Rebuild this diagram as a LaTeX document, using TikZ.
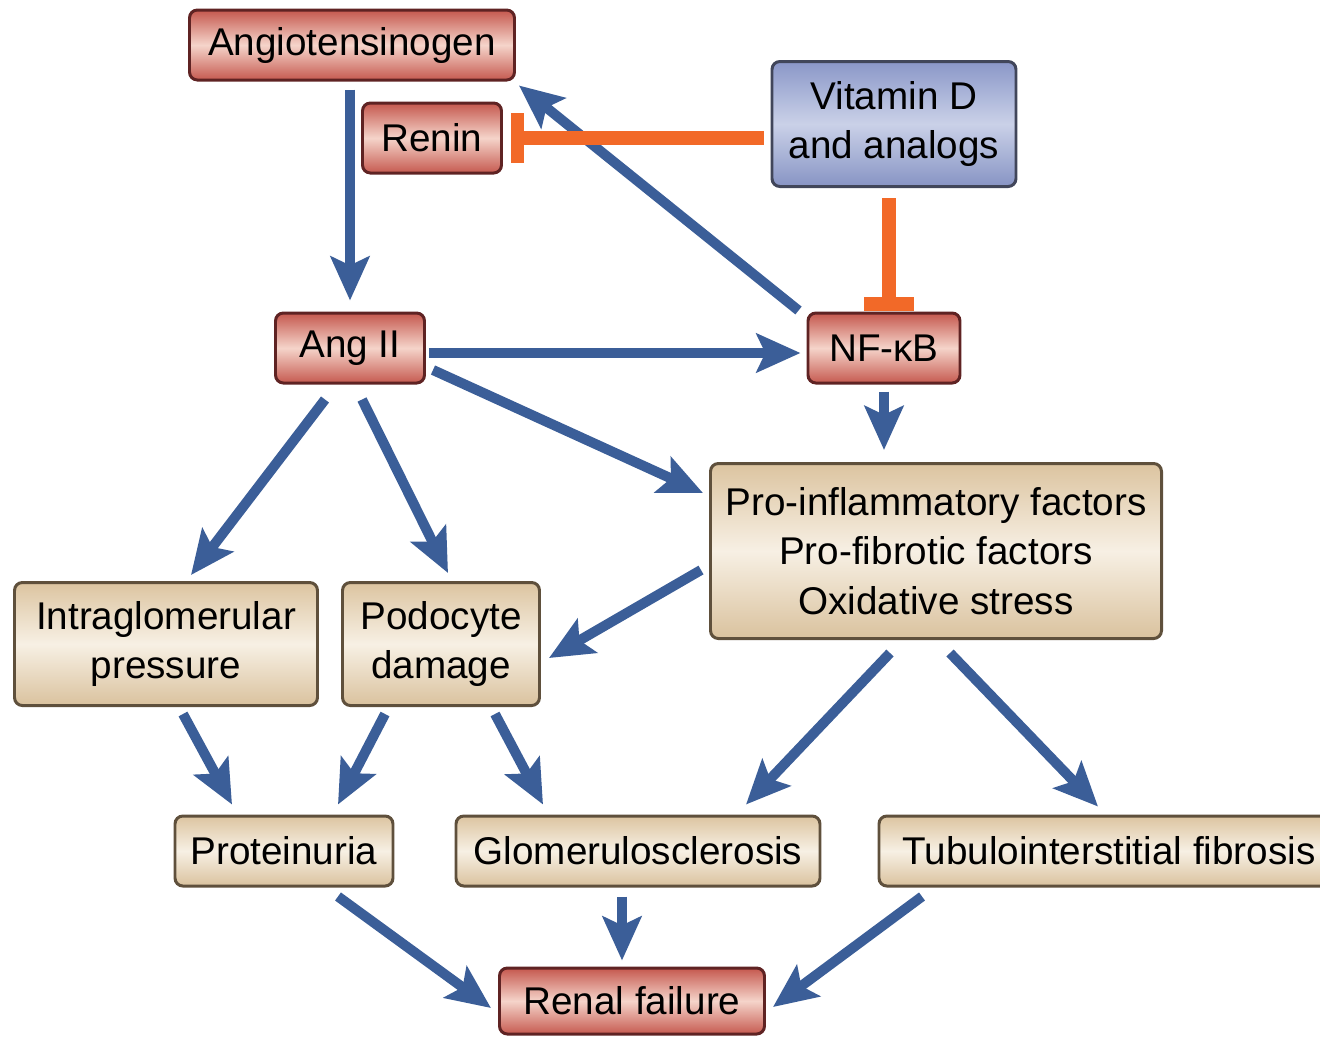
\documentclass[tikz,border=0pt]{standalone}
\usepackage{fontspec}
\setmainfont{Liberation Sans}
\usetikzlibrary{arrows.meta,calc}
\newcommand\mypx{0.02cm}
\definecolor{arrblue}{RGB}{59,94,152}
\definecolor{inhorange}{RGB}{242,105,40}
\definecolor{redtop}{RGB}{197,88,78}
\definecolor{redmid}{RGB}{245,212,202}
\definecolor{redbot}{RGB}{198,90,80}
\definecolor{redline}{RGB}{95,35,35}
\definecolor{tantop}{RGB}{220,196,160}
\definecolor{tanmid}{RGB}{247,240,228}
\definecolor{tanbot}{RGB}{218,194,158}
\definecolor{tanline}{RGB}{95,80,60}
\definecolor{bluetop}{RGB}{138,151,200}
\definecolor{bluemid}{RGB}{202,209,232}
\definecolor{bluebot}{RGB}{135,148,196}
\definecolor{blueline}{RGB}{65,70,90}
\begin{document}
\begin{tikzpicture}[x=0.02cm,y=-0.02cm,
  basebox/.style={line width=1.7pt, rounded corners=4.5pt, inner sep=0pt, align=center,
    font=\fontsize{22}{28}\selectfont},
  redbox/.style={basebox, draw=redline, top color=redtop, bottom color=redbot, middle color=redmid},
  tanbox/.style={basebox, draw=tanline, top color=tantop, bottom color=tanbot, middle color=tanmid},
  bluebox/.style={basebox, draw=blueline, top color=bluetop, bottom color=bluebot, middle color=bluemid},
  barr/.style={draw=arrblue, line width=5.7pt, -{Stealth[length=25pt,width=22pt,inset=5pt]}},
  inh/.style={draw=inhorange, line width=7.5pt, -{Bar[width=28pt]}}]
\useasboundingbox (0,0) rectangle (1320,1036);

\node[redbox, minimum width=325*\mypx, minimum height=70*\mypx] (ang) at (352,45) {Angiotensinogen};
\node[redbox, minimum width=139*\mypx, minimum height=70*\mypx] (renin) at (432,138) {Renin};
\node[bluebox, minimum width=244*\mypx, minimum height=125*\mypx] (vitd) at (894,124) {Vitamin D\\and analogs};
\node[redbox, minimum width=149*\mypx, minimum height=70*\mypx] (ang2) at (350,348) {Ang II};
\node[redbox, minimum width=152*\mypx, minimum height=70*\mypx] (nfkb) at (884,348) {NF-κB};
\node[tanbox, minimum width=451*\mypx, minimum height=175*\mypx] (pro) at (936,551) {Pro-inflammatory factors\\Pro-fibrotic factors\\Oxidative stress};
\node[tanbox, minimum width=303*\mypx, minimum height=123*\mypx] (intra) at (166,644) {Intraglomerular\\pressure};
\node[tanbox, minimum width=197*\mypx, minimum height=123*\mypx] (podo) at (441,644) {Podocyte\\damage};
\node[tanbox, minimum width=218*\mypx, minimum height=70*\mypx] (prot) at (284,851) {Proteinuria};
\node[tanbox, minimum width=364*\mypx, minimum height=70*\mypx] (glom) at (638,851) {Glomerulosclerosis};
\node[tanbox, minimum width=460*\mypx, minimum height=70*\mypx] (tubu) at (1109,851) {Tubulointerstitial fibrosis};
\node[redbox, minimum width=265*\mypx, minimum height=66*\mypx] (renal) at (632,1001) {Renal failure};

% blue arrows
\draw[barr] ($(ang.south)+(-2,8)$) -- ($(ang2.north)+(0,-11)$);
\draw[barr] ($(nfkb.north west)+(-8,-1)$) -- ($(ang.south east)+(3,4)$);
\draw[barr] ($(ang2.east)+(3,5)$) -- ($(nfkb.west)+(-6,5)$);
\draw[barr] ($(nfkb.south)+(0,7)$) -- ($(pro.north)+(-52,-12)$);
\draw[barr] ($(ang2.east)+(7,22)$) -- ($(pro.west)+(-6,-58)$);
\draw[barr] ($(ang2.south)+(-25,15)$) -- ($(intra.north)+(25,-6)$);
\draw[barr] ($(ang2.south)+(12,15)$) -- ($(podo.north)+(7,-8)$);
\draw[barr] ($(pro.west)+(-8,19)$) -- ($(podo.east)+(8,14)$);
\draw[barr] ($(pro.south)+(-46,13)$) -- ($(glom.north)+(108,-10)$);
\draw[barr] ($(pro.south)+(14,13)$) -- ($(tubu.north)+(-11,-8)$);
\draw[barr] ($(intra.south)+(17,7)$) -- ($(prot.north)+(-52,-10)$);
\draw[barr] ($(podo.south)+(-56,7)$) -- ($(prot.north)+(54,-10)$);
\draw[barr] ($(podo.south)+(54,7)$) -- ($(glom.north)+(-95,-10)$);
\draw[barr] ($(prot.south)+(54,9)$) -- ($(renal.west)+(-7,7)$);
\draw[barr] ($(glom.south)+(-16,9)$) -- ($(renal.north)+(-10,-6)$);
\draw[barr] ($(tubu.south)+(-187,9)$) -- ($(renal.east)+(7,6)$);

% inhibition
\draw[inh] ($(vitd.west)+(-7,14)$) -- ($(renin.east)+(8,0)$);
\draw[inh] ($(vitd.south)+(-5,10)$) -- ($(nfkb.north)+(5,-1)$);
\end{tikzpicture}
\end{document}
